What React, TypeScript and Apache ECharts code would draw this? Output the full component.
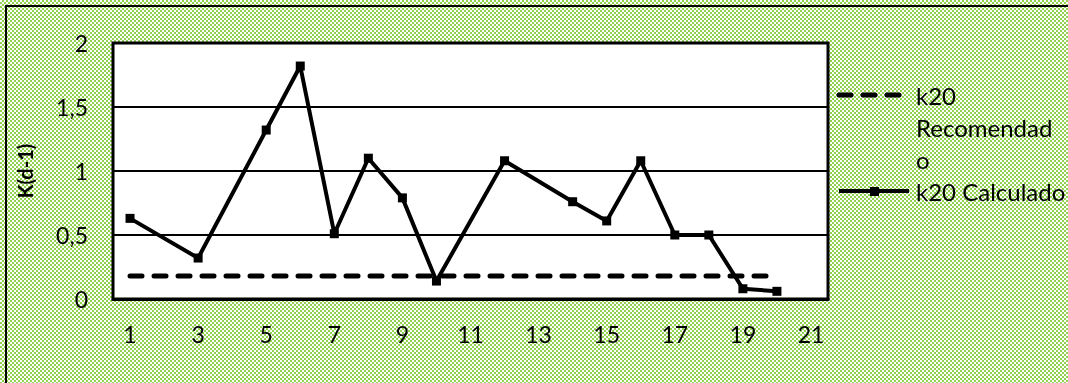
import React, { useEffect, useRef } from "react";
import * as echarts from "echarts";

const categories = ["1","2","3","4","5","6","7","8","9","10","11","12","13","14","15","16","17","18","19","20","21"];
const k20Calculado: (number | null)[] = [0.63, null, 0.32, null, 1.32, 1.82, 0.51, 1.10, 0.79, 0.14, null, 1.08, null, 0.76, 0.61, 1.08, 0.50, 0.50, 0.08, 0.06, null];
const k20Recomendado: (number | null)[] = [0.18, 0.18, 0.18, 0.18, 0.18, 0.18, 0.18, 0.18, 0.18, 0.18, 0.18, 0.18, 0.18, 0.18, 0.18, 0.18, 0.18, 0.18, 0.18, 0.18, null];
const yTicks = { min: 0, max: 2, interval: 0.5 };
const legendNames = ["k20 Recomendado", "k20 Calculado"];

const FONT = "Lato";

export default function App() {
  const ref = useRef<HTMLDivElement>(null);
  useEffect(() => {
    if (!ref.current) return;
    const chart = echarts.init(ref.current, undefined, { renderer: "svg" });
    chart.setOption({
      animation: false,
      backgroundColor: "transparent",
      textStyle: { fontFamily: FONT, color: "#000" },
      grid: {
        left: 113,
        top: 43,
        right: 240,
        bottom: 84,
        show: true,
        backgroundColor: "#fff",
        borderColor: "#000",
        borderWidth: 3,
      },
      legend: { show: false, data: legendNames },
      xAxis: {
        type: "category",
        data: categories,
        boundaryGap: true,
        axisTick: { show: false },
        axisLine: { show: true, lineStyle: { color: "#000", width: 3 } },
        axisLabel: { interval: 1, margin: 23, fontSize: 23, fontFamily: FONT, color: "#000" },
      },
      yAxis: {
        type: "value",
        min: yTicks.min,
        max: yTicks.max,
        interval: yTicks.interval,
        name: "K(d-1)",
        nameLocation: "middle",
        nameRotate: 90,
        nameGap: 78,
        nameTextStyle: { fontFamily: FONT, fontWeight: "bold", fontSize: 20, color: "#000" },
        axisLine: { show: false },
        axisTick: { show: false },
        splitLine: { show: true, lineStyle: { color: "#000", width: 2 } },
        axisLabel: {
          margin: 25,
          fontSize: 23,
          fontFamily: FONT,
          color: "#000",
          formatter: (v: number) => String(v).replace(".", ","),
        },
      },
      series: [
        {
          name: legendNames[0],
          type: "line",
          data: k20Recomendado,
          showSymbol: false,
          symbol: "none",
          connectNulls: false,
          lineStyle: { color: "#000", width: 5, type: [12, 12], cap: "round" },
          itemStyle: { color: "#000" },
          z: 3,
        },
        {
          name: legendNames[1],
          type: "line",
          data: k20Calculado,
          connectNulls: true,
          symbol: "rect",
          symbolSize: 9,
          lineStyle: { color: "#000", width: 4 },
          itemStyle: { color: "#000" },
          z: 4,
        },
      ],
      graphic: [
        {
          type: "rect",
          shape: { x: 6, y: 6, width: 1100, height: 400 },
          style: { fill: "none", stroke: "#000", lineWidth: 2 },
          silent: true,
        },
        {
          type: "line",
          shape: { x1: 839, y1: 95, x2: 902, y2: 95 },
          style: { stroke: "#000", lineWidth: 5, lineDash: [12, 12], lineCap: "round" },
        },
        {
          type: "text",
          x: 916,
          y: 79,
          style: {
            text: "k20\nRecomendad\no",
            fontFamily: FONT,
            fontSize: 24,
            lineHeight: 32,
            fill: "#000",
            verticalAlign: "top",
          },
        },
        {
          type: "line",
          shape: { x1: 839, y1: 191, x2: 909, y2: 191 },
          style: { stroke: "#000", lineWidth: 4 },
        },
        {
          type: "rect",
          shape: { x: 870, y: 187, width: 9, height: 9 },
          style: { fill: "#000" },
        },
        {
          type: "text",
          x: 916,
          y: 191,
          style: {
            text: "k20 Calculado",
            fontFamily: FONT,
            fontSize: 24,
            fill: "#000",
            verticalAlign: "middle",
          },
        },
      ],
    });
    return () => chart.dispose();
  }, []);

  return (
    <div
      style={{
        position: "fixed",
        left: 0,
        top: 0,
        width: 1068,
        height: 383,
        background: "repeating-conic-gradient(#92D050 0 25%, #ffffff 0 50%) 0 0 / 4px 4px",
      }}
    >
      <div ref={ref} style={{ width: 1068, height: 383 }} />
    </div>
  );
}
